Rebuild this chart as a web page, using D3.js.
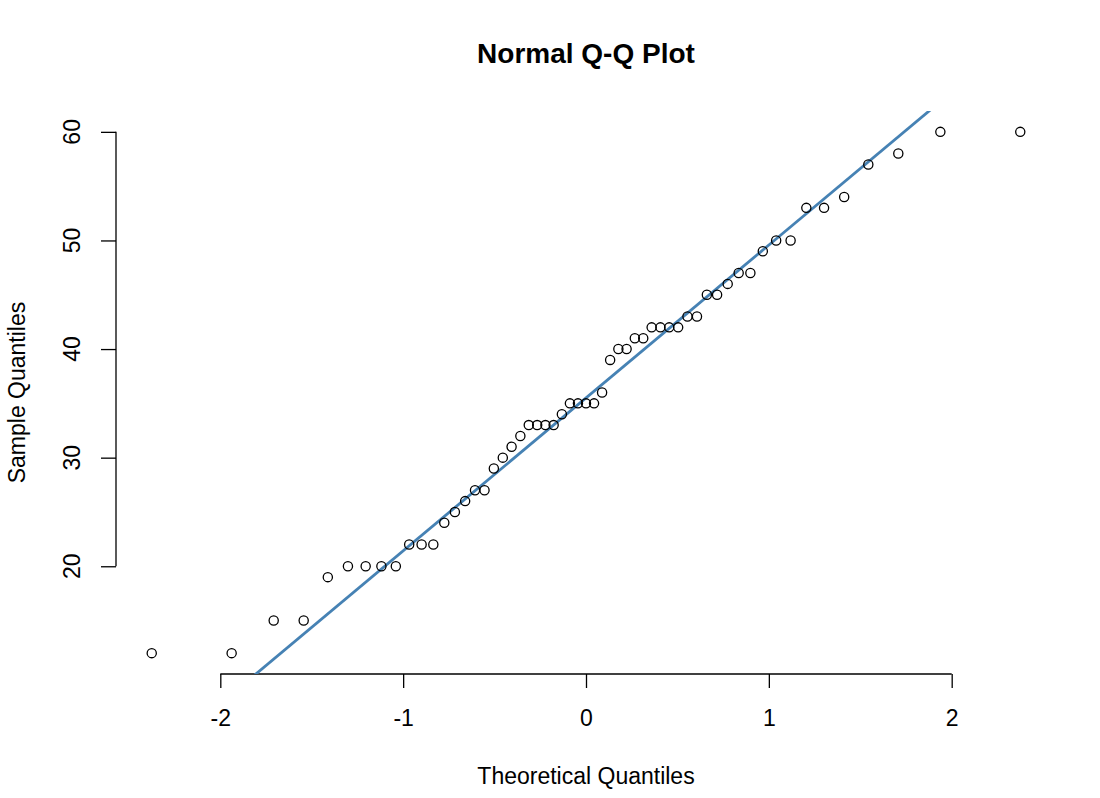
<!DOCTYPE html>
<html>
<head>
<meta charset="utf-8">
<title>Normal Q-Q Plot</title>
<script src="https://cdn.jsdelivr.net/npm/d3@7"></script>
<style>
  body { margin: 0; background: #fff; }
  svg { display: block; font-family: "Liberation Sans", Arial, sans-serif; }
</style>
</head>
<body>
<div id="chart"></div>
<script>
// Sorted sample values
const sampleValues = [
    12, 12, 15, 15, 19, 20, 20, 20, 20, 22,
    22, 22, 24, 25, 26, 27, 27, 29, 30, 31,
    32, 33, 33, 33, 33, 34, 35, 35, 35, 35,
    36, 39, 40, 40, 41, 41, 42, 42, 42, 42,
    43, 43, 45, 45, 46, 47, 47, 49, 50, 50,
    53, 53, 54, 57, 58, 60, 60
];

// Theoretical quantiles, left half (right half mirrors it)
const theoreticalLeft = [
    -2.375, -1.938, -1.708, -1.544, -1.412, -1.302, -1.205, -1.119, -1.040, -0.967,
    -0.899, -0.835, -0.775, -0.717, -0.661, -0.607, -0.555, -0.504, -0.455, -0.407,
    -0.359, -0.313, -0.267, -0.222, -0.177, -0.132, -0.088, -0.044
];
const theoreticalQuantiles = [
    ...theoreticalLeft, 0, ...theoreticalLeft.slice().reverse().map(v => -v)
];

const xTicks = [-2, -1, 0, 1, 2];
const yTicks = [20, 30, 40, 50, 60];

// Reference line (qqline through the quartiles)
const lineIntercept = 35.5;
const lineSlope = 14.08;

const titleText = "Normal Q-Q Plot";
const xLabel = "Theoretical Quantiles";
const yLabel = "Sample Quantiles";

const width = 1100, height = 798;
const plot = { left: 117, right: 1055, top: 111, bottom: 674 };

const points = theoreticalQuantiles.map((q, i) => ({ x: q, y: sampleValues[i] }));

// R style: pad the data range by 4% on each side
function padded(ext) {
    const d = (ext[1] - ext[0]) * 0.04;
    return [ext[0] - d, ext[1] + d];
}

const x = d3.scaleLinear()
    .domain(padded(d3.extent(theoreticalQuantiles)))
    .range([plot.left, plot.right]);
const y = d3.scaleLinear()
    .domain(padded(d3.extent(sampleValues)))
    .range([plot.bottom, plot.top]);

const svg = d3.select("#chart").append("svg")
    .attr("width", width)
    .attr("height", height);

svg.append("defs").append("clipPath")
    .attr("id", "plot-clip")
    .append("rect")
    .attr("x", plot.left)
    .attr("y", plot.top)
    .attr("width", plot.right - plot.left)
    .attr("height", plot.bottom - plot.top);

// x axis (plain hyphen minus, like R)
const xAxis = svg.append("g")
    .attr("transform", `translate(0,${plot.bottom})`)
    .call(d3.axisBottom(x).tickValues(xTicks).tickSize(14).tickPadding(22).tickFormat(d => String(d)));
xAxis.select(".domain").remove();
xAxis.append("line")
    .attr("x1", x(xTicks[0])).attr("x2", x(xTicks[xTicks.length - 1]))
    .attr("stroke", "#000").attr("stroke-width", 1.3);
xAxis.selectAll(".tick line").attr("stroke", "#000").attr("stroke-width", 1.3);
xAxis.selectAll(".tick text")
    .attr("fill", "#000")
    .style("font-size", "23px")
    .style("font-family", "'Liberation Sans', Arial, sans-serif");

// y axis
const yAxis = svg.append("g")
    .attr("transform", `translate(${plot.left - 1},0)`)
    .call(d3.axisLeft(y).tickValues(yTicks).tickSize(15).tickFormat(""));
yAxis.select(".domain").remove();
yAxis.append("line")
    .attr("y1", y(yTicks[0])).attr("y2", y(yTicks[yTicks.length - 1]))
    .attr("stroke", "#000").attr("stroke-width", 1.3);
yAxis.selectAll(".tick line").attr("stroke", "#000").attr("stroke-width", 1.3);

svg.append("g").selectAll("text")
    .data(yTicks)
    .join("text")
    .attr("transform", d => `translate(80,${y(d)}) rotate(-90)`)
    .attr("text-anchor", "middle")
    .style("font-size", "23px")
    .attr("fill", "#000")
    .text(d => d);

// reference line
svg.append("line")
    .attr("clip-path", "url(#plot-clip)")
    .attr("x1", x(-3)).attr("y1", y(lineIntercept + lineSlope * -3))
    .attr("x2", x(3)).attr("y2", y(lineIntercept + lineSlope * 3))
    .attr("stroke", "steelblue")
    .attr("stroke-width", 2.8);

// points
svg.append("g").selectAll("circle")
    .data(points)
    .join("circle")
    .attr("cx", d => x(d.x))
    .attr("cy", d => y(d.y))
    .attr("r", 4.6)
    .attr("fill", "none")
    .attr("stroke", "#000")
    .attr("stroke-width", 1.3);

// title and labels
svg.append("text")
    .attr("x", (plot.left + plot.right) / 2)
    .attr("y", 63)
    .attr("text-anchor", "middle")
    .style("font-size", "28px")
    .style("font-weight", "bold")
    .text(titleText);

svg.append("text")
    .attr("x", (plot.left + plot.right) / 2)
    .attr("y", 784)
    .attr("text-anchor", "middle")
    .style("font-size", "23px")
    .text(xLabel);

svg.append("text")
    .attr("transform", `translate(25,${(plot.top + plot.bottom) / 2}) rotate(-90)`)
    .attr("text-anchor", "middle")
    .style("font-size", "23px")
    .text(yLabel);
</script>
</body>
</html>
